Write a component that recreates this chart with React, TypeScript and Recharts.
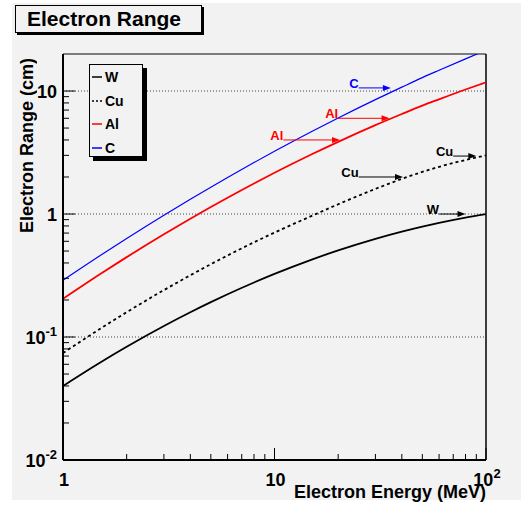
import { LineChart, Line, XAxis, YAxis, ReferenceLine } from "recharts";

/* ROOT-style canvas: grey pad, black frame, Helvetica-ish bold labels. */
const PAD = "#f2f2f2";
const INK = "#000000";
const RED = "#ff0000";
const BLUE = "#0000ff";
const FONT = "'Liberation Sans', Arial, Helvetica, sans-serif";

const energy = [1, 1.5, 2, 3, 4, 5, 6, 8, 10, 15, 20, 30, 40, 50, 60, 80, 100];
const rangeW = [0.04, 0.0621, 0.0833, 0.1229, 0.1589, 0.192, 0.2226, 0.2774, 0.3257, 0.426, 0.5059, 0.6283, 0.7192, 0.7905, 0.8482, 0.9363, 1.0];
const rangeCu = [0.074, 0.1168, 0.1591, 0.2406, 0.3178, 0.3909, 0.4601, 0.589, 0.7066, 0.9654, 1.2, 1.6, 1.93, 2.2, 2.42, 2.75, 3.0];
const rangeAl = [0.2046, 0.3253, 0.4462, 0.6849, 0.9167, 1.141, 1.358, 1.773, 2.164, 3.06, 3.864, 5.277, 6.499, 7.603, 8.564, 10.29, 11.78];
const rangeC = [0.29, 0.461, 0.633, 0.978, 1.319, 1.653, 1.982, 2.62, 3.235, 4.688, 6.04, 8.51, 10.75, 12.85, 14.75, 18.27, 21.46];

const xTicks = [1, 2, 3, 4, 5, 6, 7, 8, 9, 10, 20, 30, 40, 50, 60, 70, 80, 90, 100];
const xMajor = [1, 10, 100];
const yTicks = [
  0.01, 0.02, 0.03, 0.04, 0.05, 0.06, 0.07, 0.08, 0.09,
  0.1, 0.2, 0.3, 0.4, 0.5, 0.6, 0.7, 0.8, 0.9,
  1, 2, 3, 4, 5, 6, 7, 8, 9, 10,
];
const yMajor = [0.01, 0.1, 1, 10];
const yGrid = [0.1, 1, 10];

const series = [
  { key: "W", color: INK, width: 1.8, dash: undefined as string | undefined },
  { key: "Cu", color: INK, width: 1.8, dash: "3 3" },
  { key: "Al", color: RED, width: 1.8, dash: undefined },
  { key: "C", color: BLUE, width: 1.2, dash: undefined },
];

// arrow annotations, in data units: label sits left of the tail
const arrows = [
  { label: "C", color: BLUE, from: 25, to: 35.5, at: 10.6 },
  { label: "Al", color: RED, from: 20, to: 35, at: 6 },
  { label: "Al", color: RED, from: 11, to: 20.4, at: 4 },
  { label: "Cu", color: INK, from: 70, to: 90, at: 2.96 },
  { label: "Cu", color: INK, from: 25, to: 40.5, at: 2 },
  { label: "W", color: INK, from: 60, to: 80, at: 1 },
];

const data = energy.map((e, i) => ({
  e,
  W: rangeW[i],
  Cu: rangeCu[i],
  Al: rangeAl[i],
  C: rangeC[i],
}));

function expLabel(v: number) {
  if (v === 1) return { base: "1", sup: "" };
  if (v === 10) return { base: "10", sup: "" };
  return { base: "10", sup: String(Math.round(Math.log10(v))) };
}

function XTick(props: any) {
  const { x, y, payload } = props;
  const major = xMajor.includes(payload.value);
  const lab = expLabel(payload.value);
  return (
    <g>
      <line x1={x} x2={x} y1={y} y2={y - (major ? 12 : 6)} stroke={INK} strokeWidth={1} />
      {major && (
        <text x={x + 1} y={y + 26} textAnchor="middle" fontFamily={FONT} fontWeight="bold" fontSize={18} fill={INK}>
          {lab.base}
          {lab.sup && (
            <tspan dy={-8} fontSize={13}>
              {lab.sup}
            </tspan>
          )}
        </text>
      )}
    </g>
  );
}

function YTick(props: any) {
  const { x, y, payload } = props;
  const major = yMajor.includes(payload.value);
  const lab = expLabel(payload.value);
  return (
    <g>
      <line x1={x} x2={x + (major ? 12 : 6)} y1={y} y2={y} stroke={INK} strokeWidth={1} />
      {major && (
        <text x={x - 6} y={y + 7} textAnchor="end" fontFamily={FONT} fontWeight="bold" fontSize={18} fill={INK}>
          {lab.base}
          {lab.sup && (
            <tspan dy={-8} fontSize={13}>
              {lab.sup}
            </tspan>
          )}
        </text>
      )}
    </g>
  );
}

function Arrow(props: any) {
  const { x1, y1, x2, y2, color, label } = props;
  return (
    <g>
      <line x1={x1} y1={y1} x2={x2 - 6} y2={y2} stroke={color} strokeWidth={1} />
      <polygon points={`${x2},${y2} ${x2 - 8},${y2 - 3} ${x2 - 8},${y2 + 3}`} fill={color} />
      <text x={x1} y={y1} textAnchor="end" fontFamily={FONT} fontWeight="bold" fontSize={13} fill={color}>
        {label}
      </text>
    </g>
  );
}

function LegendBox() {
  return (
    <div
      style={{
        position: "absolute",
        left: 89,
        top: 64,
        width: 52,
        height: 91,
        border: `1px solid ${INK}`,
        background: PAD,
        boxShadow: `4px 4px 0 ${INK}`,
        fontFamily: FONT,
        fontWeight: "bold",
        fontSize: 14,
      }}
    >
      {series.map((s, i) => (
        <div key={s.key} style={{ position: "absolute", left: 2, top: 3 + i * 23.5, height: 18, display: "flex", alignItems: "center" }}>
          <svg width={11} height={4} style={{ marginRight: 2 }}>
            <line x1={0} y1={2} x2={10} y2={2} stroke={s.color} strokeWidth={1.5} strokeDasharray={s.dash ? "2 2" : undefined} />
          </svg>
          <span>{s.key}</span>
        </div>
      ))}
    </div>
  );
}

export default function App() {
  return (
    <div style={{ position: "absolute", left: 0, top: 0, width: 529, height: 509, background: "#ffffff" }}>
      <div style={{ position: "absolute", left: 12, top: 3, width: 509, height: 497, background: PAD }} />
      <div
        style={{
          position: "absolute",
          left: 15,
          top: 5,
          width: 187,
          height: 28,
          border: `1px solid ${INK}`,
          boxShadow: `2px 2px 0 ${INK}`,
          background: PAD,
          fontFamily: FONT,
          fontWeight: "bold",
          fontSize: 21,
          lineHeight: "26px",
          paddingLeft: 11,
          boxSizing: "border-box",
        }}
      >
        Electron Range
      </div>
      <div style={{ position: "absolute", left: 0, top: 0 }}>
        <LineChart width={529} height={509} data={data} margin={{ top: 54, right: 43, left: 0, bottom: 0 }}>
          <XAxis
            dataKey="e"
            type="number"
            scale="log"
            domain={[1, 100]}
            ticks={xTicks}
            interval={0}
            height={49}
            tickSize={0}
            tickMargin={0}
            tickLine={false}
            axisLine={{ stroke: INK, strokeWidth: 2 }}
            tick={<XTick />}
            allowDataOverflow
          />
          <YAxis
            type="number"
            scale="log"
            domain={[0.01, 20]}
            ticks={yTicks}
            interval={0}
            width={63}
            tickSize={0}
            tickMargin={0}
            tickLine={false}
            axisLine={{ stroke: INK, strokeWidth: 2 }}
            tick={<YTick />}
            allowDataOverflow
          />
          {yGrid.map((v) => (
            <ReferenceLine key={v} y={v} stroke="#444" strokeWidth={1} strokeDasharray="1 2" />
          ))}
          <ReferenceLine y={20} stroke="#555" strokeWidth={1.5} />
          <ReferenceLine x={100} stroke={INK} strokeWidth={1.5} />
          {series.map((s) => (
            <Line
              key={s.key}
              dataKey={s.key}
              type="monotone"
              stroke={s.color}
              strokeWidth={s.width}
              strokeDasharray={s.dash}
              dot={false}
              isAnimationActive={false}
            />
          ))}
          {arrows.map((a, i) => (
            <ReferenceLine
              key={i}
              segment={[
                { x: a.from, y: a.at },
                { x: a.to, y: a.at },
              ]}
              shape={(p: any) => <Arrow {...p} color={a.color} label={a.label} />}
            />
          ))}
        </LineChart>
      </div>
      <LegendBox />
      <div
        style={{
          position: "absolute",
          right: 529 - 486,
          top: 482,
          fontFamily: FONT,
          fontWeight: "bold",
          fontSize: 18,
          whiteSpace: "nowrap",
        }}
      >
        Electron Energy (MeV)
      </div>
      <div
        style={{
          position: "absolute",
          left: 17,
          top: 52,
          writingMode: "vertical-rl",
          transform: "rotate(180deg)",
          height: 181,
          textAlign: "left",
          fontFamily: FONT,
          fontWeight: "bold",
          fontSize: 18,
          whiteSpace: "nowrap",
        }}
      >
        Electron Range (cm)
      </div>
    </div>
  );
}
